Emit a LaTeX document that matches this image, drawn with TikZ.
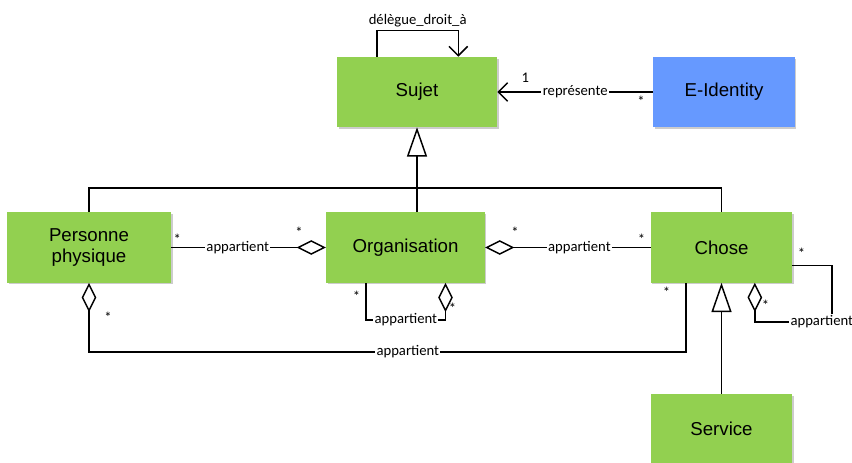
\documentclass[tikz,border=0pt]{standalone}
\usepackage{fontspec}
\setmainfont{Liberation Sans}
\newfontfamily\lblfont{Carlito}
\usetikzlibrary{arrows.meta,shadows}

\definecolor{vertclasse}{HTML}{92D050}
\definecolor{bleuclasse}{HTML}{6699FF}

\tikzset{
  classe/.style={fill=vertclasse, minimum height=52.5pt, align=center,
    font=\fontsize{14}{16}\selectfont,
    drop shadow={shadow xshift=1.2pt,shadow yshift=-1.2pt,fill=black!40}},
  lien/.style={line width=1.1pt},
  lbl/.style={font=\lblfont\fontsize{11}{12}\selectfont, inner sep=1pt, fill=white},
  mult/.style={font=\lblfont\fontsize{11}{12}\selectfont, inner sep=0pt},
  agreg/.style={lien, {Diamond[open,length=22pt,width=11pt]}-},
  herit/.style={lien, -{Triangle[open,length=22pt,width=15pt]}},
  nav/.style={lien, -{Straight Barb[length=7pt,width=14pt]}}
}

\begin{document}
\begin{tikzpicture}[x=0.75pt,y=-0.75pt]
\useasboundingbox (0,0) rectangle (852,463);

\node[classe, minimum width=120pt] (sujet) at (417,92) {Sujet};
\node[classe, minimum width=106pt, fill=bleuclasse] (eid) at (724,92) {E-Identity};
\node[classe, minimum width=123pt] (pers) at (89,247.5) {Personne\\physique};
\node[classe, minimum width=119pt] (orga) at (405.5,247.5) {Organisation};
\node[classe, minimum width=106pt] (chose) at (721.5,247.5) {Chose};
\node[classe, minimum width=106pt] (service) at (721.5,429) {Service};

% delegation
\draw[nav] ([xshift=-30pt]sujet.north) -- ++(0,-26) -| node[pos=0.25, above, inner sep=2pt, font=\lblfont\fontsize{11}{12}\selectfont]{délègue\_droit\_à} ([xshift=31pt]sujet.north);

% represente
\draw[nav] (eid.west) -- node[lbl]{représente} (sujet.east);
\node[mult] at ([shift={(28,-14)}]sujet.east) {1};
\node[mult] at ([shift={(-12,9)}]eid.west) {*};

% heritage
\coordinate (barre) at (417,188);
\draw[lien] (pers.north) |- (barre) -| (chose.north);
\draw[herit] (orga.north -| sujet.south) -- (sujet.south);
\draw[herit] (service.north) -- (chose.south);

% appartient
\draw[agreg] (orga.west) -- node[lbl, pos=0.57]{appartient} (pers.east);
\node[mult] at ([shift={(6,-8)}]pers.east) {*};
\node[mult] at ([shift={(-27,-15)}]orga.west) {*};

\draw[agreg] (orga.east) -- node[lbl, pos=0.57]{appartient} (chose.west);
\node[mult] at ([shift={(30,-15)}]orga.east) {*};
\node[mult] at ([shift={(-9,-8)}]chose.west) {*};

\draw[agreg] ([xshift=30pt]orga.south) -- ++(0,37) -| node[lbl, pos=0.25]{appartient} ([xshift=-29.5pt]orga.south);
\node[mult] at ([shift={(-49,14)}]orga.south) {*};
\node[mult] at ([shift={(47,26)}]orga.south) {*};

\draw[agreg] ([xshift=25pt]chose.south) -- ++(0,39) -- node[lbl, pos=0.87]{appartient} ++(77,0) |- ([yshift=-13.5pt]chose.east);
\node[mult] at ([shift={(9,6)}]chose.east) {*};
\node[mult] at ([shift={(44,23)}]chose.south) {*};

\draw[agreg] (pers.south) -- ++(0,69) -| node[lbl, pos=0.267]{appartient} ([xshift=-26.6pt]chose.south);
\node[mult] at ([shift={(19,35)}]pers.south) {*};
\node[mult] at ([shift={(-55,10)}]chose.south) {*};
\end{tikzpicture}
\end{document}
